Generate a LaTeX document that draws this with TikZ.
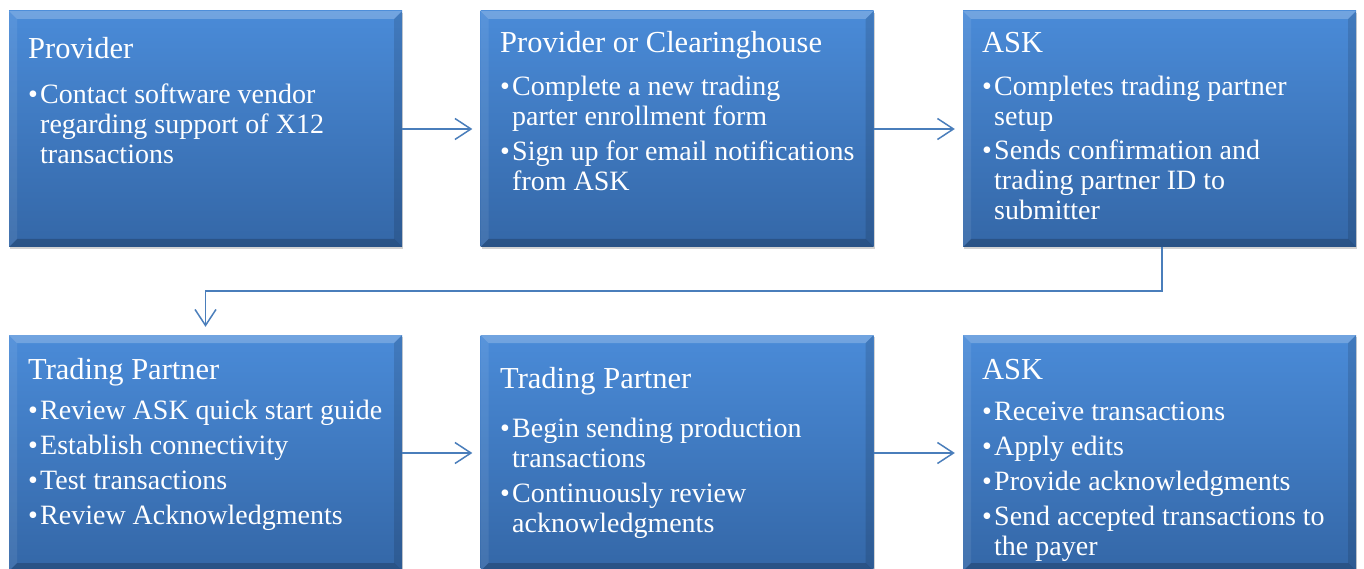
\documentclass[tikz,border=0pt]{standalone}
\usepackage{fontspec}
\setmainfont{Liberation Serif}
\usetikzlibrary{arrows.meta,shadows}
\definecolor{boxtop}{RGB}{74,139,216}
\definecolor{boxbot}{RGB}{52,103,167}
\definecolor{linec}{RGB}{74,126,187}
\newcommand{\bl}{\makebox[12pt][l]{•}}
\newcommand{\ind}{\hspace*{12pt}}
\tikzset{
  stepbox/.style={rectangle, minimum width=393pt, minimum height=236pt, inner sep=0pt,
    top color=boxtop, bottom color=boxbot, draw=none,
    drop shadow={shadow xshift=1.2pt, shadow yshift=-2.2pt, opacity=0.35},
    path picture={
      \path (path picture bounding box.north west) coordinate (pNW)
            (path picture bounding box.north east) coordinate (pNE)
            (path picture bounding box.south west) coordinate (pSW)
            (path picture bounding box.south east) coordinate (pSE);
      \fill[white,opacity=.22] (pNW) -- (pNE) -- ([shift={(-8pt,-8pt)}]pNE) -- ([shift={(8pt,-8pt)}]pNW) -- cycle;
      \fill[white,opacity=.08] (pNW) -- ([shift={(8pt,-8pt)}]pNW) -- ([shift={(8pt,8pt)}]pSW) -- (pSW) -- cycle;
      \fill[black,opacity=.12] (pNE) -- ([shift={(-8pt,-8pt)}]pNE) -- ([shift={(-8pt,8pt)}]pSE) -- (pSE) -- cycle;
      \fill[black,opacity=.2] (pSW) -- ([shift={(8pt,8pt)}]pSW) -- ([shift={(-8pt,8pt)}]pSE) -- (pSE) -- cycle;
    }},
  ttl/.style={anchor=base west, text=white, inner sep=0pt, font=\fontsize{30.5}{34}\selectfont},
  bdy/.style={anchor=base west, text=white, inner sep=0pt, align=left, font=\fontsize{28}{30}\selectfont},
  conn/.style={draw=linec, line width=1.5pt, -{Straight Barb[length=16pt,width=21pt,line width=1.5pt]}, shorten >=8pt}
}
\begin{document}
\begin{tikzpicture}[x=1pt,y=-1pt]
\useasboundingbox[fill=white] (0,0) rectangle (1364,569);
% boxes
\node[stepbox] (b1) at (205.5,129) {};
\node[stepbox] (b2) at (677,129) {};
\node[stepbox] (b3) at (1159.5,129) {};
\node[stepbox] (b4) at (205.5,453) {};
\node[stepbox] (b5) at (677,453) {};
\node[stepbox] (b6) at (1159.5,453) {};
% texts (body nodes anchored at the baseline of their last line)
\node[ttl] (t1) at (28,59) {Provider};
\node[bdy] (d1) at (28,164) {\bl Contact software vendor\\ \ind regarding support of X12\\ \ind transactions};
\node[ttl] (t2) at (500,53) {Provider or Clearinghouse};
\node[bdy] (d2) at (500,191) {\bl Complete a new trading\\ \ind parter enrollment form\\[5pt] \bl Sign up for email notifications\\ \ind from ASK};
\node[ttl] (t3) at (982,53) {ASK};
\node[bdy] (d3) at (982,220) {\bl Completes trading partner\\ \ind setup\\[4pt] \bl Sends confirmation and\\ \ind trading partner ID to\\ \ind submitter};
\node[ttl] (t4) at (28,379) {Trading Partner};
\node[bdy] (d4) at (28,524) {\bl Review ASK quick start guide\\[5pt] \bl Establish connectivity\\[5pt] \bl Test transactions\\[5pt] \bl Review Acknowledgments};
\node[ttl] (t5) at (500,388) {Trading Partner};
\node[bdy] (d5) at (500,532) {\bl Begin sending production\\ \ind transactions\\[5pt] \bl Continuously review\\ \ind acknowledgments};
\node[ttl] (t6) at (982,379) {ASK};
\node[bdy] (d6) at (982,555) {\bl Receive transactions\\[5pt] \bl Apply edits\\[5pt] \bl Provide acknowledgments\\[5pt] \bl Send accepted transactions to\\ \ind the payer};
% connectors
\draw[conn] (b1) -- (b2);
\draw[conn] (b2) -- (b3);
\coordinate (j1) at (1162,291);
\coordinate (j2) at (205.5,291);
\draw[conn] (b3.south -| j1) -- (j1) -- (j2) -- (b4.north);
\draw[conn] (b4) -- (b5);
\draw[conn] (b5) -- (b6);
\end{tikzpicture}
\end{document}
